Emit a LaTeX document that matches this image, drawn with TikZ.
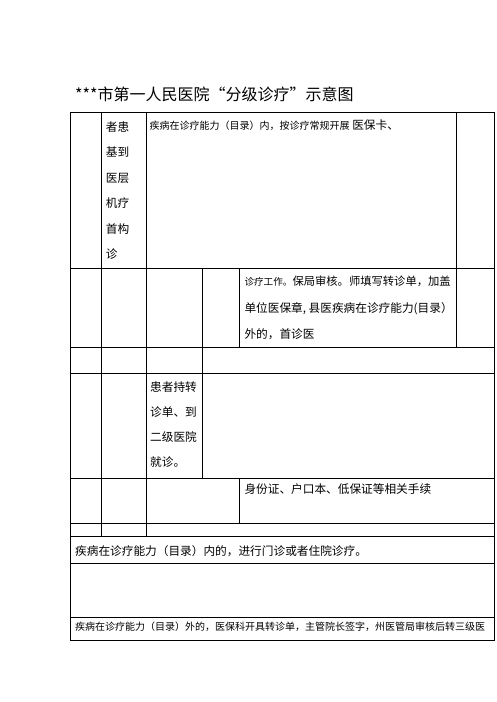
\documentclass[tikz,border=0pt]{standalone}
\usepackage{fontspec}
\setmainfont{Noto Sans CJK SC}
\newcommand{\bigf}{\fontsize{11.67pt}{12pt}\selectfont}
\newcommand{\smallf}{\fontsize{10pt}{11pt}\selectfont}
\begin{document}
\begin{tikzpicture}[x=1pt,y=-1pt,
  cell/.style={draw=black,line width=0.8pt},
  txt/.style={anchor=west,inner sep=0pt,text height=0.88em,text depth=0.12em},
  bigtxt/.style={txt,font=\bigf},
  smalltxt/.style={txt,font=\smallf}]
\useasboundingbox (0,0) rectangle (496,702);
\fill[white] (0,0) rectangle (496,702);
% row 1
\draw[cell] (70.7,112.5) rectangle (101.3,268);
\draw[cell] (101.3,112.5) rectangle (146.3,268);
\draw[cell] (146.3,112.5) rectangle (456.7,268);
\draw[cell] (456.7,112.5) rectangle (494.5,268);
% row 2
\draw[cell] (70.7,268) rectangle (101.3,347.3);
\draw[cell] (101.3,268) rectangle (146.3,347.3);
\draw[cell] (146.3,268) rectangle (202.7,347.3);
\draw[cell] (202.7,268) rectangle (239.3,347.3);
\draw[cell] (239.3,268) rectangle (456.7,347.3);
\draw[cell] (456.7,268) rectangle (494.5,347.3);
% row 3
\draw[cell] (70.7,347.3) rectangle (101.3,373.3);
\draw[cell] (101.3,347.3) rectangle (146.3,373.3);
\draw[cell] (146.3,347.3) rectangle (202.7,373.3);
\draw[cell] (202.7,347.3) rectangle (494.5,373.3);
% row 4
\draw[cell] (70.7,373.3) rectangle (101.3,478.3);
\draw[cell] (101.3,373.3) rectangle (146.3,478.3);
\draw[cell] (146.3,373.3) rectangle (202.7,478.3);
\draw[cell] (202.7,373.3) rectangle (494.5,478.3);
% row 5
\draw[cell] (70.7,478.3) rectangle (101.3,523.3);
\draw[cell] (101.3,478.3) rectangle (146.3,523.3);
\draw[cell] (146.3,478.3) rectangle (239.3,523.3);
\draw[cell] (239.3,478.3) rectangle (494.5,523.3);
% row 6
\draw[cell] (70.7,523.3) rectangle (101.3,536.7);
\draw[cell] (101.3,523.3) rectangle (146.3,536.7);
\draw[cell] (146.3,523.3) rectangle (494.5,536.7);
% rows 7-9
\draw[cell] (70.7,536.7) rectangle (494.5,563.5);
\draw[cell] (70.7,563.5) rectangle (494.5,617.5);
\draw[cell] (70.7,617.5) rectangle (494.5,640);

% title
\node[txt,font=\fontsize{16pt}{17pt}\selectfont] (title) at (75,97) {***市第一人民医院“分级诊疗”示意图};

% row 1 col 2
\node[bigtxt] (r1a) at (105.7,127.3) {者患};
\node[bigtxt] (r1b) at (105.7,152.8) {基到};
\node[bigtxt] (r1c) at (105.7,178.3) {医层};
\node[bigtxt] (r1d) at (105.7,203.8) {机疗};
\node[bigtxt] (r1e) at (105.7,229.3) {首构};
\node[bigtxt] (r1f) at (105.7,254.8) {诊};
% row 1 col 3
\node[smalltxt] (r1g) at (149.5,126) {疾病在诊疗能力（目录）内，按诊疗常规开展\bigf\ 医保卡、};
% row 2
\node[txt,font=\fontsize{11.3pt}{12pt}\selectfont] (r2a) at (244.3,282) {{\fontsize{9.6pt}{11pt}\selectfont 诊疗工作。}保局审核。师填写转诊单，加盖};
\node[bigtxt] (r2b) at (244.3,308.5) {单位医保章, 县医疾病在诊疗能力(目录）};
\node[bigtxt] (r2c) at (244.3,335) {外的，首诊医};
% row 4
\node[bigtxt] (r4a) at (150,387.5) {患者持转};
\node[bigtxt] (r4b) at (150,413) {诊单、到};
\node[bigtxt] (r4c) at (150,438) {二级医院};
\node[bigtxt] (r4d) at (150,462.5) {就诊。};
% row 5
\node[bigtxt] (r5a) at (244.3,490) {身份证、户口本、低保证等相关手续};
% row 7
\node[bigtxt] (r7a) at (75,551.5) {疾病在诊疗能力（目录）内的，进行门诊或者住院诊疗。};
% row 9
\node[smalltxt] (r9a) at (75,627) {疾病在诊疗能力（目录）外的，医保科开具转诊单，主管院长签字，州医管局审核后转三级医};
\end{tikzpicture}
\end{document}
